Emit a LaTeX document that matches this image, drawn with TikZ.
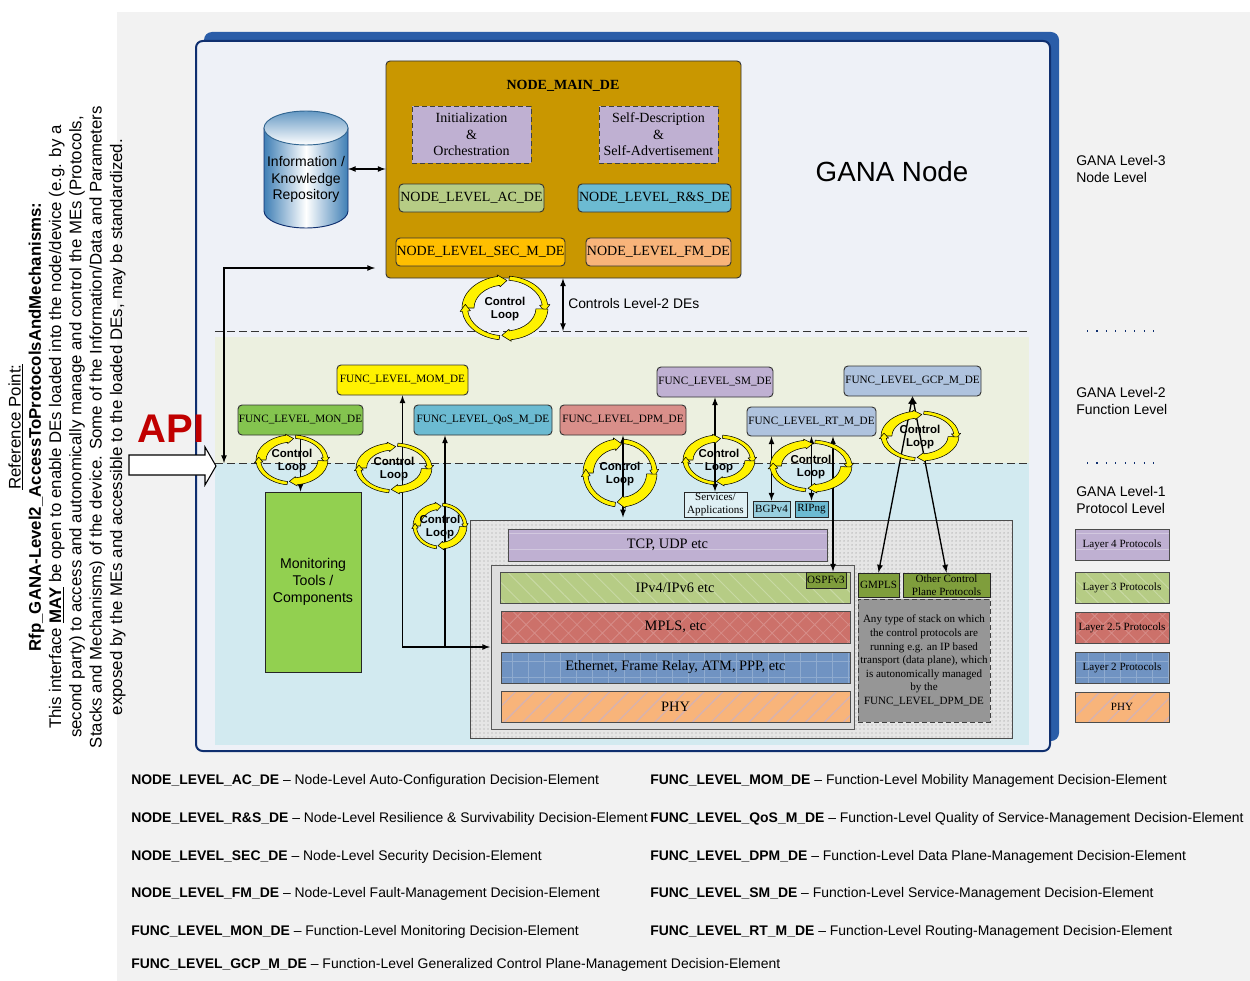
\documentclass[tikz,border=0pt]{standalone}
\usepackage{fontspec}
\setmainfont{Liberation Sans}
\newfontfamily\tms{Liberation Serif}
\usepackage{xcolor}
\usetikzlibrary{positioning,calc}
\usetikzlibrary{patterns,patterns.meta}

\definecolor{pagegrey}{HTML}{F2F2F2}
\definecolor{panelblue}{HTML}{EEF1F7}
\definecolor{panelback}{HTML}{2A5DA8}
\definecolor{paneledge}{HTML}{0F2F6F}
\definecolor{bandtwo}{HTML}{ECF0E0}
\definecolor{bandone}{HTML}{D2EAF0}
\definecolor{maingold}{HTML}{C99700}
\definecolor{lilac}{HTML}{BFB0D2}
\definecolor{leaf}{HTML}{B6CC85}
\definecolor{teal}{HTML}{6CBBD2}
\definecolor{amber}{HTML}{FFBF00}
\definecolor{peach}{HTML}{F8B47A}
\definecolor{monleaf}{HTML}{84C44F}
\definecolor{toolgreen}{HTML}{92D050}
\definecolor{rose}{HTML}{D98F8A}
\definecolor{steel}{HTML}{AFC3DE}
\definecolor{brick}{HTML}{CC716A}
\definecolor{denim}{HTML}{7093C2}
\definecolor{olive}{HTML}{7F9E3C}
\definecolor{repoblue}{HTML}{3F7FB5}
\definecolor{apired}{HTML}{C00000}

\tikzset{
  dround/.style={draw=black!80,line width=.7pt,rounded corners=3pt},
  dsquare/.style={draw=black!85,line width=.6pt},
  dstack/.style={draw=black!70,line width=.6pt},
  dashbox/.style={draw=black!75,dash pattern=on 4pt off 2pt,line width=.7pt},
  nodetxt/.style={font=\tms\fontsize{10.5}{12.4}\selectfont},
  functxt/.style={font=\tms\fontsize{8.4}{10.5}\selectfont},
  stacktxt/.style={font=\tms\fontsize{10.8}{13}\selectfont},
  smalltxt/.style={font=\tms\fontsize{8.3}{10}\selectfont},
  sanstxt/.style={font=\fontsize{10.5}{12.6}\selectfont},
  keytxt/.style={font=\fontsize{10.45}{12}\selectfont,anchor=west,inner sep=0pt},
  flow/.style={line width=1pt,>=latex},
  sepline/.style={dash pattern=on 6pt off 3pt,line width=.6pt,black!80},
  dotline/.style={dash pattern=on .8pt off 6.3pt,line width=.8pt,paneledge},
  lay4/.style={dstack,preaction={fill=lilac},pattern={Lines[angle=0,distance=12pt,line width=.5pt]},pattern color=white!30!lilac},
  lay3/.style={dstack,preaction={fill=leaf},pattern={Lines[angle=-45,distance=9pt,line width=.7pt]},pattern color=white!25!leaf},
  lay25/.style={dstack,preaction={fill=brick},pattern={Hatch[angle=45,distance=9pt,line width=.6pt]},pattern color=white!20!brick},
  lay2/.style={dstack,preaction={fill=denim},pattern={Hatch[angle=0,distance=12pt,line width=.7pt]},pattern color=white!22!denim},
  lay1/.style={dstack,preaction={fill=peach},pattern={Lines[angle=45,distance=10pt,line width=1pt]},pattern color=lilac!60!peach},
  loopfill/.style={fill=yellow,draw=black,line width=.4pt,line join=round}
}

% box given by its corners, in reference pixels
\newcommand{\blk}[7]{%
  \pgfmathsetmacro{\blkw}{0.75*(#5-#3)}%
  \pgfmathsetmacro{\blkh}{0.75*(#6-#4)}%
  \node[#1,minimum width=\blkw pt,minimum height=\blkh pt,inner sep=0pt,align=center] (#2) at ({(#3+#5)/2},{(#4+#6)/2}) {#7};}

% four yellow arrows and the words
\newcommand{\ctrlloop}[5]{%
  \begin{scope}[shift={(#2,#3)},xscale=#4,yscale=-#5]
    \filldraw[loopfill] (180:1) arc (180:100:1) -- (100:1.05) -- (87:.86) -- (100:.67) -- (100:.72) arc (100:180:.72) -- cycle;
    \filldraw[loopfill] (84:1) arc (84:6:1) -- (6:1.05) -- (-7:.93) -- (6:.81) -- (6:.87) arc (6:84:.87) -- cycle;
    \filldraw[loopfill] (-2:1) arc (-2:-82:1) -- (-82:1.05) -- (-95:.86) -- (-82:.67) -- (-82:.72) arc (-82:-2:.72) -- cycle;
    \filldraw[loopfill] (-98:1) arc (-98:-174:1) -- (-174:1.05) -- (-187:.93) -- (-174:.81) -- (-174:.87) arc (-174:-98:.87) -- cycle;
  \end{scope}
  \node[align=center,inner sep=0pt,yshift=-.7pt,font=\bfseries\fontsize{8.6}{10.2}\selectfont] (#1) at (#2,#3) {Control\\Loop};}

\begin{document}
\begin{tikzpicture}[x=0.75pt,y=-0.75pt]
  \useasboundingbox (0,0) rectangle (1250,981);
  \fill[pagegrey] (117,12) rectangle (1250,981);

  % panels and bands
  \fill[panelback,rounded corners=6pt] (204,32) rectangle (1059,741);
  \draw[paneledge,fill=panelblue,line width=1.5pt,rounded corners=5pt] (196,41) rectangle (1050,751);
  \fill[bandtwo] (215,337) rectangle (1029,463);
  \fill[bandone] (215,463) rectangle (1029,745);
  \draw[sepline] (215,331) -- (1029,331);
  \draw[sepline] (215,463) -- (1029,463);

  % node level
  \blk{dround,fill=maingold}{mainde}{386}{61}{741}{278}{}
  \node[font=\tms\bfseries\fontsize{10.5}{12}\selectfont] (maintitle) at (563,86) {NODE\_MAIN\_DE};
  \blk{dashbox,fill=lilac,nodetxt}{initde}{412}{106}{531}{163}{Initialization\\\&\\Orchestration}
  \blk{dashbox,fill=lilac,nodetxt}{selfde}{599}{106}{718}{163}{Self-Description\\\&\\Self-Advertisement}
  \blk{dround,fill=leaf,nodetxt}{acde}{399}{184}{544}{212}{NODE\_LEVEL\_AC\_DE}
  \blk{dround,fill=teal,nodetxt}{rsde}{578}{184}{731}{212}{NODE\_LEVEL\_R\&S\_DE}
  \blk{dround,fill=amber,nodetxt}{secde}{396}{238}{565}{266}{NODE\_LEVEL\_SEC\_M\_DE}
  \blk{dround,fill=peach,nodetxt}{fmde}{586}{238}{731}{266}{NODE\_LEVEL\_FM\_DE}
  \node[font=\fontsize{20.8}{24}\selectfont] (gananode) at (892,172) {GANA Node};

  % repository
  \path[draw=paneledge,line width=.7pt,left color=repoblue,right color=repoblue,middle color=white]
    (264,128) -- (264,211) arc (180:0:42 and 17) -- (348,128) -- cycle;
  \path[draw=repoblue!80!black,line width=.7pt,top color=repoblue!80,bottom color=white] (306,128) ellipse (42 and 17);
  \node[align=center,inner sep=0pt,font=\fontsize{10.5}{12.5}\selectfont] (repo) at (306,179.5) {Information /\\Knowledge\\Repository};
  \coordinate (repotie) at (348,169);
  \draw[flow,<->] (repotie) -- (repotie -| mainde.west);

  % protocol stack
  \fill[black!10] (470,520) rectangle (1012,738);
  \blk{draw=black!70,line width=.6pt,pattern={Dots[distance=3pt,radius=.55pt]},pattern color=black!38}{stackde}{470}{520}{1012}{738}{}
  \blk{draw=black!65,line width=.6pt,fill=black!13}{innerde}{491}{565}{854}{729}{}
  \blk{lay4,stacktxt}{tcpde}{508}{529}{827}{561}{TCP, UDP etc}
  \blk{lay3,stacktxt}{ipde}{500}{572}{850}{603}{IPv4/IPv6 etc}
  \blk{lay25,stacktxt}{mplsde}{501}{611}{850}{643}{MPLS, etc}
  \blk{lay2,stacktxt}{ethde}{501}{652}{850}{683}{Ethernet, Frame Relay, ATM, PPP, etc}
  \blk{lay1,stacktxt}{phyde}{501}{691}{850}{722}{PHY}
  \blk{dsquare,fill=olive,smalltxt}{ospf}{806}{572}{846}{588}{OSPFv3}
  \blk{dsquare,fill=olive,smalltxt}{gmpls}{858}{573}{899}{597}{GMPLS}
  \blk{dsquare,fill=olive,smalltxt}{otherctl}{903}{573}{990}{597}{Other Control\\Plane Protocols}
  \blk{dashbox,fill=black!41,font=\tms\fontsize{8.3}{10.2}\selectfont}{anystack}{858}{599}{990}{722}{Any type of stack on which\\the control protocols are\\running e.g. an IP based\\transport (data plane), which\\is autonomically managed\\by the\\FUNC\_LEVEL\_DPM\_DE}

  % function level
  \blk{dsquare,fill=toolgreen,font=\fontsize{10.6}{12.6}\selectfont}{tools}{265}{492}{361}{672}{Monitoring\\Tools /\\Components}
  \blk{dround,fill=monleaf,functxt}{monde}{238}{405}{363}{435}{FUNC\_LEVEL\_MON\_DE}
  \blk{dround,fill=yellow,functxt}{momde}{337}{365}{468}{395}{FUNC\_LEVEL\_MOM\_DE}
  \blk{dround,fill=teal,functxt}{qosde}{414}{405}{552}{435}{FUNC\_LEVEL\_QoS\_M\_DE}
  \blk{dround,fill=rose,functxt}{dpmde}{560}{405}{686}{435}{FUNC\_LEVEL\_DPM\_DE}
  \blk{dround,fill=lilac,functxt}{smde}{657}{367}{773}{397}{FUNC\_LEVEL\_SM\_DE}
  \blk{dround,fill=steel,functxt}{rtde}{747}{407}{876}{436}{FUNC\_LEVEL\_RT\_M\_DE}
  \blk{dround,fill=steel,functxt}{gcpde}{844}{366}{981}{396}{FUNC\_LEVEL\_GCP\_M\_DE}
  \blk{dsquare,fill=bandone!70!white,font=\tms\fontsize{8.3}{10}\selectfont}{svcapp}{684}{492}{747}{517}{Services/\\Applications}
  \blk{dsquare,fill=teal!70!white,smalltxt}{bgp}{753}{501}{790}{517}{BGPv4}
  \blk{dsquare,fill=teal,smalltxt}{rip}{795}{501}{828}{517}{RIPng}

  % connectors
  \coordinate (apitip) at (224,463);
  \coordinate (tomain) at (375,268);
  \coordinate (stackin) at (490,647);
  \coordinate (stackjoin) at (445,647);
  \draw[flow,<->] (apitip) |- (tomain);
  \draw[flow,<->] (mainde.south -| 563,0) -- (563,331);
  \draw[flow,->] (monde.south) -- (monde.south |- tools.north);
  \draw[flow,<->] (momde.south) |- (stackin);
  \draw[flow,->] (stackjoin) -- (stackjoin |- qosde.south);
  \draw[flow,<->] (dpmde.south) -- (dpmde.south |- svcapp.south);
  \draw[flow,<->] (smde.south) -- (smde.south |- svcapp.north);
  \draw[flow,<->] (bgp.north |- rtde.south) -- (bgp.north);
  \draw[flow,<->] (rip.north |- rtde.south) -- (rip.north);
  \draw[flow,<->] ($(ospf.north |- rtde.south)+(7,0)$) -- ($(ospf.north)+(7,0)$);
  \draw[flow,<->] (gcpde.south) -- (gmpls.north);
  \draw[flow,<->] (gcpde.south) -- (otherctl.north);

  % control loops
  \ctrlloop{looptop}{505}{308}{43}{32}
  \ctrlloop{loopmon}{292}{460}{36}{25}
  \ctrlloop{loopmom}{394}{468}{38}{25}
  \ctrlloop{loopqos}{440}{526}{27}{23}
  \ctrlloop{loopdpm}{620}{473}{37}{34}
  \ctrlloop{loopsm}{719}{460}{36}{25}
  \ctrlloop{looprt}{811}{466}{41}{26}
  \ctrlloop{loopgcp}{920}{436}{39}{25}

  \node[anchor=west,inner sep=0pt,font=\fontsize{10.4}{12}\selectfont] (ctrltext) at (568,304) {Controls Level-2 DEs};

  % API
  \node[font=\bfseries\fontsize{30}{34}\selectfont,text=apired,inner sep=0pt] (apitext) at (171,429) {API};
  \draw[fill=white,line width=.8pt] (129,455) -- (205,455) -- (205,447) -- (216,466) -- (205,485) -- (205,475) -- (129,475) -- cycle;

  % rotated statement
  \node[rotate=90,align=center,inner sep=0pt,font=\fontsize{12.6}{15.2}\selectfont] (apinote) at (67,427) {\underline{Reference Point:}\\
    \textbf{Rfp\_GANA-Level2\_AccessToProtocolsAndMechanisms:}\\
    This interface \underline{\textbf{MAY}} be open to enable DEs loaded into the node/device (e.g. by a\\
    second party) to access and autonomically manage and control the MEs (Protocols,\\
    Stacks and Mechanisms) of the device. Some of the Information/Data and Parameters\\
    exposed by the MEs and accessible to the loaded DEs, may be standardized.};

  % levels on the right
  \node[anchor=west,align=left,inner sep=0pt,sanstxt] (lvlthree) at (1076,169) {GANA Level-3\\Node Level};
  \node[anchor=west,align=left,inner sep=0pt,sanstxt] (lvltwo) at (1076,401) {GANA Level-2\\Function Level};
  \node[anchor=west,align=left,inner sep=0pt,sanstxt] (lvlone) at (1076,500) {GANA Level-1\\Protocol Level};
  \draw[dotline] (1087,331) -- (1158,331);
  \draw[dotline] (1087,463) -- (1158,463);
  \blk{lay4,smalltxt}{keyfour}{1075}{529}{1169}{560}{Layer 4 Protocols}
  \blk{lay3,smalltxt}{keythree}{1075}{572}{1169}{603}{Layer 3 Protocols}
  \blk{lay25,smalltxt}{keytwofive}{1075}{612}{1169}{643}{Layer 2.5 Protocols}
  \blk{lay2,smalltxt}{keytwo}{1075}{652}{1169}{683}{Layer 2 Protocols}
  \blk{lay1,smalltxt}{keyone}{1075}{692}{1169}{722}{PHY}

  % abbreviations
  \node[keytxt] (abac) at (131,781) {\textbf{NODE\_LEVEL\_AC\_DE} -- Node-Level Auto-Configuration Decision-Element};
  \node[keytxt] (abrs) at (131,818.5) {\textbf{NODE\_LEVEL\_R\&S\_DE} -- Node-Level Resilience \& Survivability Decision-Element};
  \node[keytxt] (absec) at (131,856.5) {\textbf{NODE\_LEVEL\_SEC\_DE} -- Node-Level Security Decision-Element};
  \node[keytxt] (abfm) at (131,893.5) {\textbf{NODE\_LEVEL\_FM\_DE} -- Node-Level Fault-Management Decision-Element};
  \node[keytxt] (abmon) at (131,931.5) {\textbf{FUNC\_LEVEL\_MON\_DE} -- Function-Level Monitoring Decision-Element};
  \node[keytxt] (abgcp) at (131,964.5) {\textbf{FUNC\_LEVEL\_GCP\_M\_DE} -- Function-Level Generalized Control Plane-Management Decision-Element};
  \node[keytxt] (abmom) at (650,781) {\textbf{FUNC\_LEVEL\_MOM\_DE} -- Function-Level Mobility Management Decision-Element};
  \node[keytxt] (abqos) at (650,818.5) {\textbf{FUNC\_LEVEL\_QoS\_M\_DE} -- Function-Level Quality of Service-Management Decision-Element};
  \node[keytxt] (abdpm) at (650,856.5) {\textbf{FUNC\_LEVEL\_DPM\_DE} -- Function-Level Data Plane-Management Decision-Element};
  \node[keytxt] (absm) at (650,893.5) {\textbf{FUNC\_LEVEL\_SM\_DE} -- Function-Level Service-Management Decision-Element};
  \node[keytxt] (abrt) at (650,931.5) {\textbf{FUNC\_LEVEL\_RT\_M\_DE} -- Function-Level Routing-Management Decision-Element};
\end{tikzpicture}
\end{document}
